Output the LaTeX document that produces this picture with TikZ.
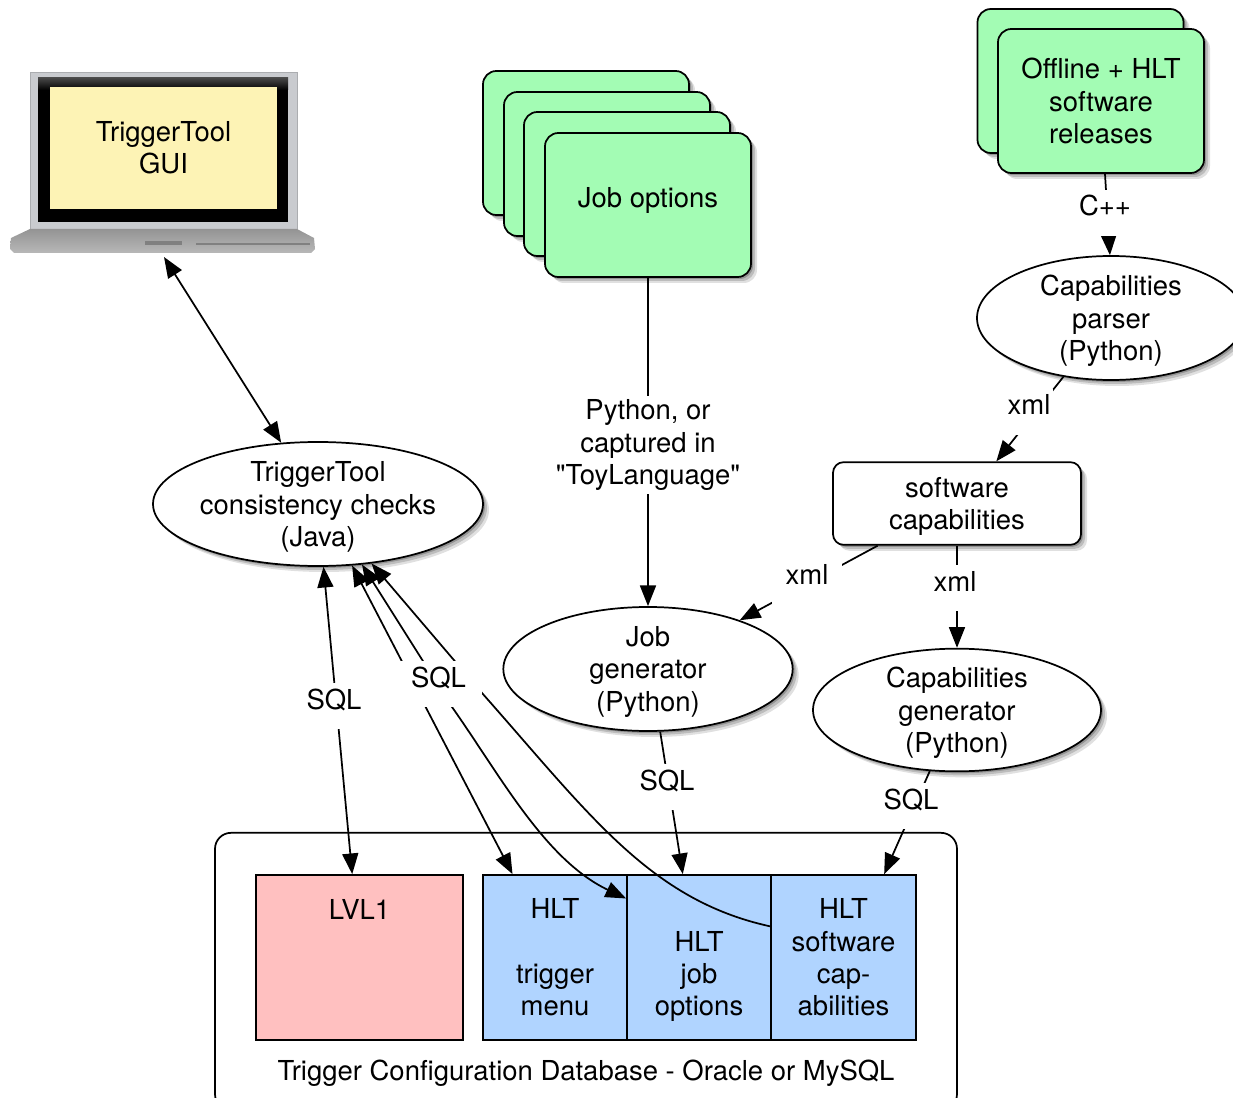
\documentclass[tikz,border=0pt]{standalone}
\usepackage{fontspec}
\setmainfont{TeX Gyre Heros}
\newfontfamily\plainquote{TeX Gyre Heros}
\usetikzlibrary{arrows.meta,shapes.geometric,shadows}

\definecolor{stackgreen}{HTML}{A3FCB4}
\definecolor{screenyellow}{HTML}{FDF3B5}
\definecolor{lvlpink}{HTML}{FFC0C0}
\definecolor{hltblue}{HTML}{B0D4FF}
\definecolor{lapsilver}{HTML}{C9CBCF}

\tikzset{every picture/.style={line width=1.3pt}}
\tikzset{
  every node/.style={font=\fontsize{20.6}{24.2}\selectfont,align=center},
  softshadow/.style={
    general shadow={shadow xshift=4.5pt,shadow yshift=-4.5pt,fill=black,opacity=0.12},
    general shadow={shadow xshift=3pt,shadow yshift=-3pt,fill=black,opacity=0.16},
    general shadow={shadow xshift=1.5pt,shadow yshift=-1.5pt,fill=black,opacity=0.22}},
  stackbox/.style={draw,fill=stackgreen,rounded corners=10pt,minimum width=154.5pt,minimum height=108pt,softshadow},
  capsule/.style={draw,ellipse,fill=white,inner sep=0pt,softshadow},
  midtext/.style={yshift=-2.2pt},
  cellbox/.style={draw,minimum height=123.75pt,inner sep=0pt},
  sqltext/.style={fill=white,anchor=base,inner xsep=2pt,inner ysep=0pt,text height=19.5pt,text depth=15pt},
  oneway/.style={-{Triangle[length=15.5pt,width=12pt]}},
  twoway/.style={{Triangle[length=15.5pt,width=12pt]}-{Triangle[length=15.5pt,width=12pt]}},
}

\begin{document}
\begin{tikzpicture}[x=0.75pt,y=0.75pt,yscale=-1,xscale=1]
\useasboundingbox (0,0) rectangle (1233,1098);

%Shape: Laptop
\draw [draw=lapsilver!85!black,fill=lapsilver,line width=0.6pt] (30,72) rectangle (297,229);
\fill [black] (38,78) rectangle (288,222);
\shade [top color=black!72,bottom color=black] (38,78) rectangle (288,90);
\path [top color=black!42,bottom color=black!28] (30,229) -- (297,229) -- (314,238) -- (315,249) -- (311,253) -- (14,253) -- (10,249) -- (11,238) -- cycle;
\fill [black!50] (145,241) rectangle (182,245);
\fill [black!50] (196,243) rectangle (310,245);
\node [fill=screenyellow,minimum width=170pt,minimum height=91.5pt,inner sep=0pt] (gui) at (163.5,148) {TriggerTool\\GUI};
\coordinate (guifoot) at (164,257);

%Shape: Job options stack
\node [stackbox] (joba) at (586,143) {};
\node [stackbox] (jobb) at (607,164) {};
\node [stackbox] (jobc) at (627,184) {};
\node [stackbox,text depth=12pt] (jobopts) at (648,205) {Job options};

%Shape: Releases stack
\node [stackbox] (relback) at (1080.5,81) {};
\node [stackbox] (releases) at (1101,101) {Offline + HLT\\software\\releases};

%Shape: Ellipses
\node [capsule,minimum width=201pt,minimum height=93pt,label={[midtext]center:{Capabilities\\parser\\(Python)}}] (parser) at (1111,318) {};
\node [capsule,minimum width=247.5pt,minimum height=93pt,label={[midtext]center:{TriggerTool\\consistency checks\\(Java)}}] (checks) at (318,504) {};
\node [capsule,minimum width=217pt,minimum height=93pt,label={[midtext]center:{Job\\generator\\(Python)}}] (jobgen) at (648,669) {};
\node [capsule,minimum width=216pt,minimum height=92pt,label={[midtext]center:{Capabilities\\generator\\(Python)}}] (capgen) at (957,710) {};

%Shape: Software capabilities
\node [draw,fill=white,rounded corners=8pt,minimum width=186pt,minimum height=62pt,inner sep=0pt,softshadow,label={[midtext]center:{software\\capabilities}}] (softcaps) at (957,503.5) {};

%Shape: Database
\node [draw,fill=white,rounded corners=12pt,minimum width=556.5pt,minimum height=208pt] (database) at (586,971.5) {};
\node [cellbox,fill=lvlpink,minimum width=155.25pt] (lvlone) at (359.5,957.5) {LVL1\\\mbox{}\\\mbox{}\\\mbox{}};
\node [cellbox,fill=hltblue,minimum width=108pt] (hltmenu) at (555,957.5) {HLT\\\mbox{}\\trigger\\menu};
\node [cellbox,fill=hltblue,minimum width=108pt] (hltjob) at (699,957.5) {\rule{0pt}{19pt}\\HLT\\job\\options};
\node [cellbox,fill=hltblue,minimum width=108.75pt] (hltsoft) at (843.5,957.5) {HLT\\software\\cap-\\abilities};
\node (dbname) at (586,1073) {Trigger Configuration Database - Oracle or MySQL};

%Straight Lines
\draw [twoway] (guifoot) -- (checks.121.4);
\draw [oneway] (releases.south -| 1105,0) -- (parser.91.4);
\draw [oneway] (parser.-129) -- (softcaps.47.5);
\draw [oneway] (softcaps.208.3) -- (jobgen.28.3);
\draw [oneway] (softcaps.south) -- (capgen.north);
\draw [oneway] (jobopts.south) -- (jobgen.north);
\draw [oneway] (jobgen.-79) -- (hltjob.101);
\draw [oneway] (capgen.-114.6) -- (hltsoft.64.4);
\draw [twoway] (checks.-85.5) -- (lvlone.95);
\draw [twoway] (checks.-61) -- (hltmenu.117.5);

%Curved Lines
\draw [twoway] (checks.-54.8) -- (452,707) .. controls (500,775) and (545,860) .. (hltjob.141.3);
\draw [{Triangle[length=15.5pt,width=12pt]}-] (checks.-48.5) -- (482,693) .. controls (590,815) and (650,900) .. (hltsoft.157.2);

% Text Node
\node [sqltext] (sqlone) at (334,709) {SQL};
% Text Node
\node [sqltext,inner xsep=12pt] (sqlhlt) at (438.5,687) {SQL};
% Text Node
\node [sqltext] (sqljob) at (667,790) {SQL};
% Text Node
\node [sqltext] (sqlcap) at (911,809) {SQL};
% Text Node
\node [sqltext] (cpptext) at (1105,216) {C++};
% Text Node
\node [sqltext] (xmlparser) at (1029,415) {xml};
% Text Node
\node [sqltext,inner xsep=10pt] (xmljob) at (807,585) {xml};
% Text Node
\node [sqltext] (xmlcap) at (955,591) {xml};
% Text Node
\node [fill=white,inner xsep=2pt,inner ysep=3pt] (pytext) at (648,445) {Python, or\\captured in\\{\plainquote"ToyLanguage"}};

\end{tikzpicture}
\end{document}
